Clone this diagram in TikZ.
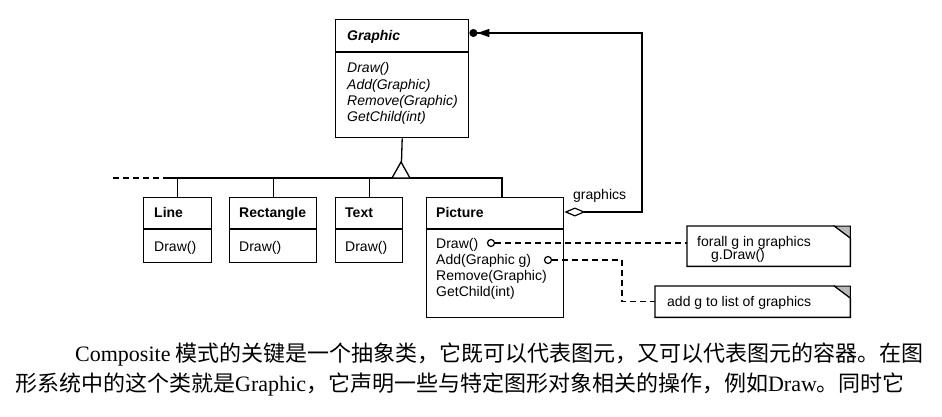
\documentclass[tikz,border=0pt]{standalone}
\usepackage{fontspec}
\setmainfont{Liberation Sans}
\newfontfamily\cjk{Noto Sans CJK SC}
\newfontfamily\tnr{Liberation Serif}
\usetikzlibrary{arrows.meta}
\begin{document}
\begin{tikzpicture}[x=1pt,y=-1pt,
  box/.style={draw, line width=1.4pt, inner sep=0pt, anchor=north west},
  notebox/.style={inner sep=0pt, anchor=north west},
  txt/.style={anchor=base west, inner sep=0pt, font=\fontsize{14pt}{16pt}\selectfont},
  conn/.style={line width=1.3pt, line join=miter},
  dashconn/.style={line width=1.2pt, dash pattern=on 6pt off 4pt},
  lollipop/.style={circle, draw, line width=1.2pt, minimum size=7pt, inner sep=0pt},
  para/.style={anchor=west, inner sep=0pt, align=justify,
    font=\cjk\fontsize{22pt}{26pt}\selectfont}]
\useasboundingbox (0,0) rectangle (942,417);

% ---------- Graphic ----------
\node[box, minimum width=133pt, minimum height=118pt] (graphic) at (335,19) {};
\draw[line width=1.4pt] (graphic.west |- 0,52) -- (graphic.east |- 0,52);
\node[txt, font=\fontsize{14pt}{16pt}\selectfont\bfseries\itshape] (gname) at (347,41) {Graphic};
\node[txt, font=\fontsize{14pt}{16pt}\selectfont\itshape] (gm1) at (347,73) {Draw()};
\node[txt, font=\fontsize{14pt}{16pt}\selectfont\itshape] (gm2) at (347,89.5) {Add(Graphic)};
\node[txt, font=\fontsize{14pt}{16pt}\selectfont\itshape] (gm3) at (347,106) {Remove(Graphic)};
\node[txt, font=\fontsize{14pt}{16pt}\selectfont\itshape] (gm4) at (347,122) {GetChild(int)};

% ---------- subclasses ----------
\node[box, minimum width=68pt, minimum height=65pt] (line) at (143,197) {};
\draw[line width=1.4pt] (line.west |- 0,229) -- (line.east |- 0,229);
\node[txt, font=\fontsize{14pt}{16pt}\selectfont\bfseries] (lname) at (154,217) {Line};
\node[txt] (lm1) at (154,251) {Draw()};

\node[box, minimum width=87pt, minimum height=65pt] (rect) at (229,197) {};
\draw[line width=1.4pt] (rect.west |- 0,229) -- (rect.east |- 0,229);
\node[txt, font=\fontsize{14pt}{16pt}\selectfont\bfseries] (rname) at (239,217) {Rectangle};
\node[txt] (rm1) at (239,251) {Draw()};

\node[box, minimum width=67pt, minimum height=65pt] (text) at (335,197) {};
\draw[line width=1.4pt] (text.west |- 0,229) -- (text.east |- 0,229);
\node[txt, font=\fontsize{14pt}{16pt}\selectfont\bfseries] (tname) at (345,217) {Text};
\node[txt] (tm1) at (345,251) {Draw()};

\node[box, minimum width=137pt, minimum height=120pt] (picture) at (426,197) {};
\draw[line width=1.4pt] (picture.west |- 0,229) -- (picture.east |- 0,229);
\node[txt, font=\fontsize{14pt}{16pt}\selectfont\bfseries] (pname) at (436,217) {Picture};
\node[txt] (pm1) at (436,248) {Draw()};
\node[txt] (pm2) at (436,264) {Add(Graphic g)};
\node[txt] (pm3) at (436,280) {Remove(Graphic)};
\node[txt] (pm4) at (436,296) {GetChild(int)};

% ---------- inheritance ----------
\coordinate (busL) at (113,178);
\coordinate (busS) at (163,178);
\coordinate (tri) at (401,178);
\coordinate (busR) at (502,178);
\draw[dashconn] (busL) -- (busS);
\draw[conn] (busS) -- (busR) -- (busR |- picture.north);
\draw[conn] (line.north) -- (line.north |- busS);
\draw[conn] (rect.north) -- (rect.north |- busS);
\draw[conn] (text.north) -- (text.north |- busS);
\draw[conn] (graphic.south) -- (tri);
\draw[conn, fill=white] (tri) ++(-9,0) -- ++(9,-16) -- ++(9,16) -- cycle;

% ---------- aggregation ----------
\coordinate (aggy) at (0,212);
\coordinate (aggx) at (642,0);
\coordinate (gtop) at (0,33);
\draw[conn, {Diamond[open,length=21pt,width=9pt,line width=1.2pt]}-{Triangle[length=12pt,width=8pt] Circle[length=8pt]}]
  (picture.east |- aggy) -- (aggx |- aggy) -- (aggx |- gtop) -- (graphic.east |- gtop);
\node[txt] (glabel) at (573,199) {graphics};

% ---------- notes ----------
\node[notebox, minimum width=163pt, minimum height=40pt] (note1) at (687,226) {};
\node[notebox, minimum width=195pt, minimum height=31pt] (note2) at (655,286) {};
\foreach \n in {note1,note2}{
  \draw[line width=1.4pt, line join=miter] (\n.south west) -- (\n.north west) -- ([xshift=-16pt]\n.north east)
     -- ([yshift=-12pt]\n.north east) -- (\n.south east) -- cycle;
  \filldraw[fill=gray!55, line width=1pt] ([xshift=-16pt]\n.north east) -- (\n.north east) -- ([yshift=-12pt]\n.north east) -- cycle;
}
\node[txt] (n1a) at (697,246) {forall g in graphics};
\node[txt] (n1b) at (711,259) {g.Draw()};
\node[txt] (n2a) at (667,306) {add g to list of graphics};

\node[lollipop] (dc) at (491,243) {};
\node[lollipop] (ac) at (548,260) {};
\coordinate (bend) at (622,0);
\draw[dashconn] (dc.east) -- (dc.east -| note1.west);
\draw[dashconn] (ac.east) -- (ac.east -| bend) -- (bend |- note2.west) -- (note2.west);

% ---------- paragraph ----------
\node[para, text width=853pt] (p1) at (75,355)
  {\XeTeXlinebreaklocale "zh"\XeTeXlinebreakskip=0pt plus 3pt\parfillskip=0pt
   {\tnr Composite} 模式的关键是一个抽象类，它既可以代表图元，又可以代表图元的容器。在图};
\node[para, text width=913pt] (p2) at (15,385)
  {\XeTeXlinebreaklocale "zh"\XeTeXlinebreakskip=0pt plus 3pt\parfillskip=0pt
   形系统中的这个类就是{\tnr Graphic}，它声明一些与特定图形对象相关的操作，例如{\tnr Draw}。同时它};
\end{tikzpicture}
\end{document}
